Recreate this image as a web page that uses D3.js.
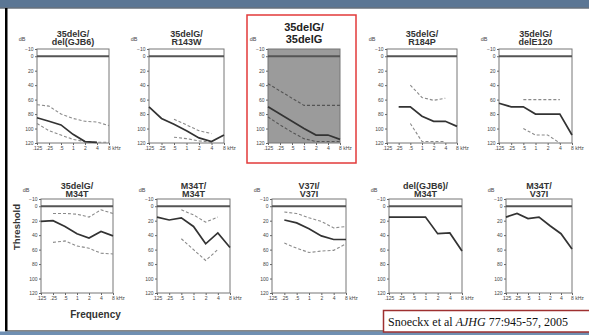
<!DOCTYPE html>
<html>
<head>
<meta charset="utf-8">
<script src="https://cdn.jsdelivr.net/npm/d3@7"></script>
<style>
  body { margin: 0; background: #fff; }
  svg { display: block; font-family: "Liberation Sans", Arial, sans-serif; }
</style>
</head>
<body>
<div id="chart"></div>
<script>
// audiogram data: frequencies in kHz, thresholds in dB (null = no point)
const freqs = [0.125, 0.25, 0.5, 1, 2, 4, 8];
const freqLabels = [".125", ".25", ".5", "1", "2", "4", "8 kHz"];
const dbTicks = [-10, 0, 20, 40, 60, 80, 100, 120];

const genotypes = [
  ["35delG/", "del(GJB6)"], ["35delG/", "R143W"], ["35delG/", "35delG"],
  ["35delG/", "R184P"], ["35delG/", "delE120"],
  ["35delG/", "M34T"], ["M34T/", "M34T"], ["V37I/", "V37I"],
  ["del(GJB6)/", "M34T"], ["M34T/", "V37I"]
];

const meanDb = [
  [85, 90, 95, 108, 118, 119, null],
  [70, 86, 94, 103, 113, 118, 109],
  [70, 80, 90, 100, 109, 109, 115],
  [null, 70, 70, 83, 90, 90, 97],
  [65, 70, 70, 80, 80, 80, 109],
  [21, 20, 28, 38, 44, 35, 41],
  [15, 19, 16, 28, 52, 37, 57],
  [null, 19, 23, 31, 41, 46, 46],
  [15, 15, 15, 15, 38, 37, 62],
  [15, 10, 17, 15, 27, 38, 59]
];

const upperDb = [
  [67, 69, 80, 86, 90, 91, 96],
  [null, null, 87, 95, 103, 107, null],
  [38, 48, 58, 68, 68, 68, 68],
  [null, null, 40, 57, 61, 58, null],
  [null, null, 60, 60, 60, 60, null],
  [null, 10, 10, 11, 15, 5, 10],
  [null, null, 5, 12, 22, 15, null],
  [null, 8, 10, 16, 21, 30, 28],
  null,
  null
];

const lowerDb = [
  [93, 103, 109, 115, 118, 119, 119],
  [null, null, 112, 114, 117, 119, null],
  [84, 95, 105, 114, 118, 118, 118],
  [null, null, 93, 118, 118, 118, null],
  [null, null, 100, 109, 109, 120, null],
  [null, 50, 48, 55, 58, 65, 66],
  [null, null, 45, 60, 75, 60, null],
  [null, 51, 58, 64, 62, 61, 52],
  null,
  null
];

const highlighted = 2;

// layout
const W = 589, H = 335;
const rowTop = [49, 199];
const boxH = 94;
const boxes = [
  {row: 0, x: 37, w: 72}, {row: 0, x: 149, w: 75}, {row: 0, x: 268, w: 72},
  {row: 0, x: 387, w: 70}, {row: 0, x: 499, w: 73},
  {row: 1, x: 41, w: 72}, {row: 1, x: 157, w: 73}, {row: 1, x: 272, w: 74},
  {row: 1, x: 389, w: 73}, {row: 1, x: 506, w: 66}
];

const svg = d3.select("#chart").append("svg")
  .attr("width", W).attr("height", H);

// slide frame
svg.append("rect").attr("x", 0).attr("y", 0).attr("width", W).attr("height", 7.5).attr("fill", "#5b7694");
svg.append("line").attr("x1", 0).attr("x2", W).attr("y1", 8).attr("y2", 8).attr("stroke", "#1d2b3a").attr("stroke-width", 1);
svg.append("rect").attr("x", 5).attr("y", 8).attr("width", 2.5).attr("height", 323).attr("fill", "#000");
svg.append("line").attr("x1", 5).attr("x2", W).attr("y1", 331).attr("y2", 331).attr("stroke", "#111").attr("stroke-width", 1);
svg.append("rect").attr("x", 0).attr("y", 331.5).attr("width", W).attr("height", 4).attr("fill", "#6f8fb2");

boxes.forEach((b, i) => {
  const hl = i === highlighted;
  const g = svg.append("g").attr("transform", `translate(${b.x},${rowTop[b.row]})`);

  const x = d3.scaleLog().base(2).domain([0.125, 8]).range([0, b.w]);
  const y = d3.scaleLinear().domain([-10, 120]).range([0, boxH]);

  g.append("rect")
    .attr("width", b.w).attr("height", boxH)
    .attr("fill", hl ? "#9b9b9b" : "#fff")
    .attr("stroke", "#777").attr("stroke-width", 1);

  // y axis
  const ya = g.append("g").call(d3.axisLeft(y).tickValues(dbTicks).tickSize(2).tickPadding(1.5));
  ya.select(".domain").remove();
  ya.selectAll("line").attr("stroke", "#666");
  ya.selectAll("text").attr("font-size", 5).attr("fill", "#444").attr("font-family", null);

  // x axis
  const xa = g.append("g").attr("transform", `translate(0,${boxH})`)
    .call(d3.axisBottom(x).tickValues(freqs).tickFormat((d, k) => freqLabels[k]).tickSize(2).tickPadding(1.5));
  xa.select(".domain").remove();
  xa.selectAll("line").attr("stroke", "#666");
  xa.selectAll("text").attr("font-size", 5).attr("fill", "#444").attr("font-family", null);
  xa.selectAll("text").filter((d, k) => k === freqs.length - 1)
    .attr("text-anchor", "start").attr("dx", -1.5);

  // 0 dB line
  g.append("line").attr("x1", 0).attr("x2", b.w).attr("y1", y(0)).attr("y2", y(0))
    .attr("stroke", "#555").attr("stroke-width", 1.8);

  const line = d3.line()
    .defined(d => d != null)
    .x((d, k) => x(freqs[k]))
    .y(d => y(d));

  [upperDb[i], lowerDb[i]].forEach(s => {
    if (!s) return;
    g.append("path").attr("d", line(s)).attr("fill", "none")
      .attr("stroke", hl ? "#555" : "#8a8a8a").attr("stroke-width", 1.1)
      .attr("stroke-dasharray", "3,2");
  });
  g.append("path").attr("d", line(meanDb[i])).attr("fill", "none")
    .attr("stroke", "#333").attr("stroke-width", 1.7);

  // labels
  g.append("text").attr("x", -15).attr("y", b.row === 0 ? -8.5 : -7.5)
    .attr("text-anchor", "middle").attr("font-size", 5.5).attr("fill", "#444").text("dB");

  const cx = b.w / 2;
  if (hl) {
    g.append("text").attr("x", cx).attr("y", -18.5).attr("text-anchor", "middle")
      .attr("font-size", 11).attr("font-weight", "bold").attr("fill", "#222").text(genotypes[i][0]);
    g.append("text").attr("x", cx).attr("y", -6).attr("text-anchor", "middle")
      .attr("font-size", 11).attr("font-weight", "bold").attr("fill", "#222").text(genotypes[i][1]);
    g.append("rect").attr("x", -21).attr("y", -34).attr("width", 109).attr("height", 148)
      .attr("fill", "none").attr("stroke", "#e23a3a").attr("stroke-width", 1.5);
  } else {
    const t0 = b.row === 0 ? -12.5 : -10.5;
    g.append("text").attr("x", cx).attr("y", t0).attr("text-anchor", "middle")
      .attr("font-size", 9).attr("font-weight", "bold").attr("fill", "#333").text(genotypes[i][0]);
    g.append("text").attr("x", cx).attr("y", t0 + 8.7).attr("text-anchor", "middle")
      .attr("font-size", 9).attr("font-weight", "bold").attr("fill", "#333").text(genotypes[i][1]);
  }
});

// shared axis titles
svg.append("text").attr("transform", "translate(20,227) rotate(-90)")
  .attr("text-anchor", "middle").attr("font-size", 9.5).attr("font-weight", "bold")
  .attr("fill", "#333").text("Threshold");
svg.append("text").attr("x", 95.5).attr("y", 317.5)
  .attr("text-anchor", "middle").attr("font-size", 10).attr("font-weight", "bold")
  .attr("fill", "#333").text("Frequency");

// citation
svg.append("rect").attr("x", 383.5).attr("y", 310.5).attr("width", 210).attr("height", 21.5)
  .attr("fill", "#fff").attr("stroke", "#9e3030").attr("stroke-width", 1.5);
const cite = svg.append("text").attr("x", 388).attr("y", 326)
  .attr("font-family", "'Liberation Serif', 'Times New Roman', serif").attr("font-size", 12).attr("fill", "#111");
cite.append("tspan").text("Snoeckx et al ");
cite.append("tspan").attr("font-style", "italic").text("AJHG");
cite.append("tspan").text(" 77:945-57, 2005");
</script>
</body>
</html>
